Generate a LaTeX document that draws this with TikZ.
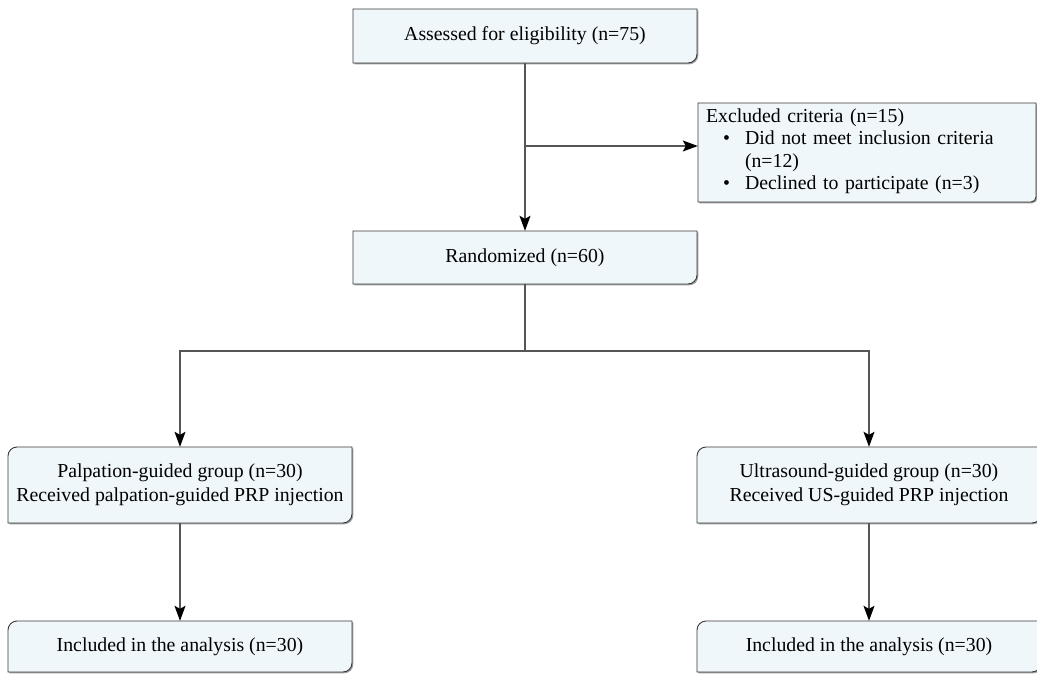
\documentclass[tikz,border=0pt]{standalone}
\usepackage{fontspec}
\setmainfont{Liberation Serif}
\usetikzlibrary{arrows.meta}
\definecolor{boxfill}{HTML}{EFF7FA}
\definecolor{boxline}{HTML}{3A3A3A}
\definecolor{linecol}{HTML}{555555}
\newcommand\boxpath[6]{(#1,#4) -- (#1,#2+#5) arc[start angle=180,end angle=90,radius=#5pt] -- (#3,#2) -- (#3,#4-#6) arc[start angle=0,end angle=-90,radius=#6pt] -- cycle}
\newcommand\drawbox[6]{%
  \fill[gray!75, xshift=1.3pt, yshift=-1.3pt] \boxpath{#1}{#2}{#3}{#4}{#5}{#6};
  \filldraw[fill=boxfill, draw=boxline, line width=0.9pt] \boxpath{#1}{#2}{#3}{#4}{#5}{#6};}
\tikzset{
  txt/.style={inner sep=0pt, draw=none, align=center, font=\fontsize{19.8}{23.5}\selectfont},
  conn/.style={draw=linecol, line width=1.1pt},
  arr/.style={conn, -{Stealth[length=15pt,width=11pt,inset=3pt,color=black]}}
}
\begin{document}
\begin{tikzpicture}[x=1pt,y=-1pt]
\useasboundingbox (0,0) rectangle (1037,674);
\clip (0,0) rectangle (1037,674);
% boxes
\drawbox{353}{9}{697}{63}{0.01}{9}
\drawbox{698}{103}{1036}{202}{0.01}{5}
\drawbox{353}{231}{697}{284}{0.01}{9}
\drawbox{8}{447}{352}{523}{9}{9}
\drawbox{697}{447}{1041}{523}{9}{9}
\drawbox{8}{621}{352}{672}{9}{9}
\drawbox{697}{621}{1041}{672}{9}{9}
% nodes
\node[txt, minimum width=344pt, minimum height=54pt] (top) at (525,36) {Assessed for eligibility (n=75)};
\node[txt, minimum width=338pt, minimum height=99pt, text width=322pt, inner xsep=8pt, align=left,
      font=\fontsize{19.8}{22.5}\selectfont] (excl) at (867,151)
  {Excluded criteria (n=15)\\
   \hspace*{17pt}\makebox[22pt][l]{\textbullet}Did not meet inclusion criteria\\
   \hspace*{39pt}(n=12)\\
   \hspace*{17pt}\makebox[22pt][l]{\textbullet}Declined to participate (n=3)};
\node[txt, minimum width=344pt, minimum height=53pt] (rand) at (525,257.5) {Randomized (n=60)};
\node[txt, minimum width=344pt, minimum height=76pt] (palp) at (180,485) {Palpation-guided group (n=30)\\Received palpation-guided PRP injection};
\node[txt, minimum width=344pt, minimum height=76pt] (us) at (869,485) {Ultrasound-guided group (n=30)\\Received US-guided PRP injection};
\node[txt, minimum width=344pt, minimum height=51pt] (inclL) at (180,646.5) {Included in the analysis (n=30)};
\node[txt, minimum width=344pt, minimum height=51pt] (inclR) at (869,646.5) {Included in the analysis (n=30)};
% connectors
\coordinate (br) at (525,146);
\coordinate (split) at (525,351);
\draw[arr] (top.south) -- (rand.north);
\draw[arr] (br) -- (br -| excl.west);
\draw[conn] (rand.south) -- (split);
\draw[arr] (split) -| (palp.north);
\draw[arr] (split) -| (us.north);
\draw[arr] (palp.south) -- (inclL.north);
\draw[arr] (us.south) -- (inclR.north);
\end{tikzpicture}
\end{document}
